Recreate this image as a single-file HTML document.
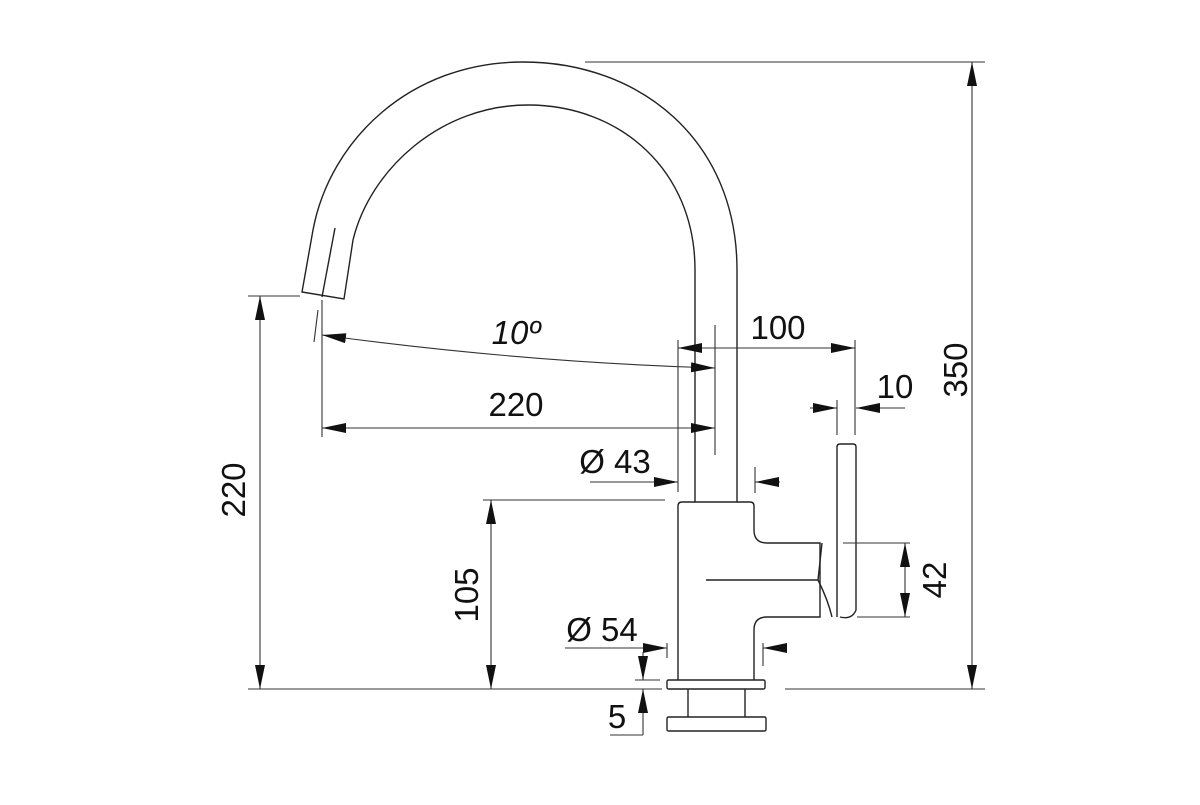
<!DOCTYPE html>
<html><head><style>html,body{margin:0;padding:0;background:#fff}</style></head>
<body>
<svg width="1200" height="800" viewBox="0 0 1200 800" xmlns="http://www.w3.org/2000/svg" font-family="Liberation Sans, sans-serif">
<defs>
<marker id="a" viewBox="0 0 10 10" refX="10" refY="5" markerWidth="24" markerHeight="10" markerUnits="userSpaceOnUse" orient="auto-start-reverse" preserveAspectRatio="none"><path d="M0,0 L10,5 L0,10 Z" fill="#111"/></marker>
</defs>
<g fill="none" stroke="#222" stroke-width="1.4">
<path d="M737,502 L737,270 C737,140 640,62 523,62 C410,62 330,140 313,230 L302,292 L344,299 L353,240 C370,170 440,105 528,105 C620,105 695,170 695,270 L695,502"/>
<line x1="335" y1="228" x2="322" y2="297"/>
<path d="M678,680 L678,506 Q678,502 682,502 L750,502 Q754,502 754,506 L754,530 Q754,543 767,543 L820,543 L820,617 L767,617 Q754,617 754,630 L754,680"/>
<line x1="706" y1="580" x2="818" y2="580"/>
<path d="M818,580 Q828,600 832,617"/>
<path d="M837,617 L837,447 Q837,444 840,444 L853,444 Q856,444 856,447 L856,610 Q852,620 840,617"/>
<path d="M818,580 L822,543"/>
<rect x="667" y="680" width="98" height="9" rx="1.5"/>
<line x1="688" y1="689" x2="688" y2="717"/>
<line x1="745" y1="689" x2="745" y2="717"/>
<rect x="667" y="717" width="99" height="14" rx="1.5"/>
</g>
<g fill="none" stroke="#333" stroke-width="1.1">
<line x1="585" y1="62" x2="985" y2="62"/>
<line x1="785" y1="689" x2="985" y2="689"/>
<line x1="248" y1="689" x2="662" y2="689"/>
<line x1="248" y1="296" x2="300" y2="296"/>
<line x1="483" y1="500" x2="665" y2="500"/>
<line x1="843" y1="543" x2="910" y2="543"/>
<line x1="857" y1="617" x2="910" y2="617"/>
<line x1="678" y1="340" x2="678" y2="492"/>
<line x1="715" y1="325" x2="715" y2="455"/>
<line x1="855" y1="340" x2="855" y2="435"/>
<line x1="837" y1="400" x2="837" y2="435"/>
<line x1="322" y1="300" x2="322" y2="437"/>
<line x1="318" y1="310" x2="314" y2="342"/>
<line x1="755" y1="467" x2="755" y2="493"/>
<line x1="667" y1="643" x2="667" y2="658"/>
<line x1="763" y1="643" x2="763" y2="666"/>
<line x1="635" y1="680" x2="660" y2="680"/>
<line x1="610" y1="735" x2="643" y2="735"/>
<line x1="972" y1="62" x2="972" y2="689" marker-start="url(#a)" marker-end="url(#a)"/>
<line x1="260" y1="296" x2="260" y2="689" marker-start="url(#a)" marker-end="url(#a)"/>
<line x1="491" y1="500" x2="491" y2="689" marker-start="url(#a)" marker-end="url(#a)"/>
<line x1="905" y1="543" x2="905" y2="617" marker-start="url(#a)" marker-end="url(#a)"/>
<line x1="678" y1="348" x2="855" y2="348" marker-start="url(#a)" marker-end="url(#a)"/>
<line x1="322" y1="428" x2="715" y2="428" marker-start="url(#a)" marker-end="url(#a)"/>
<path d="M322,335 Q520,362 715,368" marker-start="url(#a)" marker-end="url(#a)"/>
<line x1="810" y1="408" x2="837" y2="408" marker-end="url(#a)"/>
<line x1="905" y1="408" x2="856" y2="408" marker-end="url(#a)"/>
<line x1="590" y1="482" x2="678" y2="482" marker-end="url(#a)"/>
<line x1="780" y1="482" x2="755" y2="482" marker-end="url(#a)"/>
<line x1="565" y1="648" x2="667" y2="648" marker-end="url(#a)"/>
<line x1="787" y1="648" x2="763" y2="648" marker-end="url(#a)"/>
<line x1="643" y1="652" x2="643" y2="680" marker-end="url(#a)"/>
<line x1="643" y1="735" x2="643" y2="689" marker-end="url(#a)"/>
</g>
<g fill="#111" font-size="33">
<text x="778" y="339" text-anchor="middle">100</text>
<text x="895" y="398" text-anchor="middle">10</text>
<text x="516" y="416" text-anchor="middle">220</text>
<text x="516" y="344" text-anchor="middle" font-style="italic">10º</text>
<text x="615" y="473" text-anchor="middle">Ø 43</text>
<text x="602" y="641" text-anchor="middle">Ø 54</text>
<text x="617" y="728" text-anchor="middle">5</text>
<text transform="translate(967,370) rotate(-90)" text-anchor="middle">350</text>
<text transform="translate(245,490) rotate(-90)" text-anchor="middle">220</text>
<text transform="translate(478,595) rotate(-90)" text-anchor="middle">105</text>
<text transform="translate(946,580) rotate(-90)" text-anchor="middle">42</text>
</g>
</svg>
</body></html>
